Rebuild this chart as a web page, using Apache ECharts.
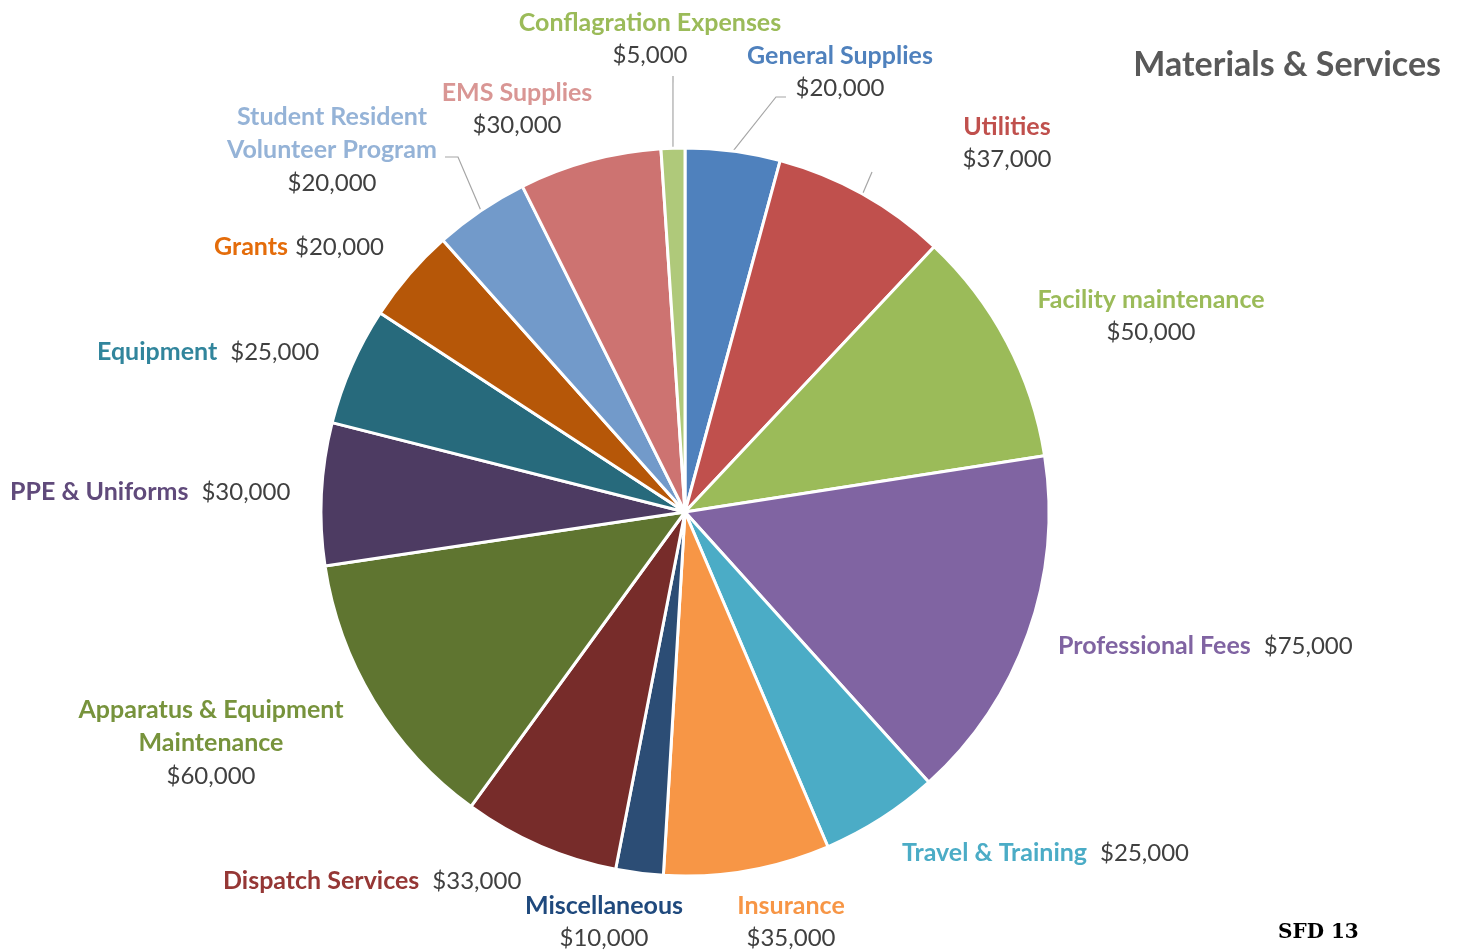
<!DOCTYPE html>
<html>
<head>
<meta charset="utf-8">
<title>Materials & Services</title>
<script src="https://cdn.jsdelivr.net/npm/echarts@6/dist/echarts.min.js"></script>
<style>
  html, body { margin: 0; padding: 0; background: #fff; }
  #main { width: 1460px; height: 951px; }
</style>
</head>
<body>
<div id="main"></div>
<script>
// budget lines, clockwise from the top
var categories = ['General Supplies', 'Utilities', 'Facility maintenance', 'Professional Fees',
    'Travel & Training', 'Insurance', 'Miscellaneous', 'Dispatch Services',
    'Apparatus & Equipment\nMaintenance', 'PPE & Uniforms', 'Equipment', 'Grants',
    'Student Resident\nVolunteer Program', 'EMS Supplies', 'Conflagration Expenses'];
var amounts = [20000, 37000, 50000, 75000, 25000, 35000, 10000, 33000,
    60000, 30000, 25000, 20000, 20000, 30000, 5000];

var sliceColors = ['#4F81BD', '#C0504D', '#9BBB59', '#8064A2', '#4BACC6', '#F79646', '#2C4D75', '#772C2A',
    '#5F7530', '#4D3B62', '#276A7C', '#B65708', '#729ACA', '#CD7371', '#AFC97A'];
var nameColors = ['#4F81BD', '#C0504D', '#9BBB59', '#8064A2', '#4BACC6', '#F79646', '#1F497D', '#953735',
    '#77933C', '#604A7B', '#31859C', '#E46C0A', '#95B3D7', '#D99694', '#9BBB59'];

// label placement: [x, y, align, layout]
// 'stack' = name over value, 'wide' = same line with a wide gap, 'tight' = same line, one space
var labelPlace = [
    [840, 72, 'center', 'stack'],
    [1007, 143, 'center', 'stack'],
    [1151, 316, 'center', 'stack'],
    [1058, 646, 'left', 'wide'],
    [902, 853, 'left', 'wide'],
    [791, 922, 'center', 'stack'],
    [604, 922, 'center', 'stack'],
    [223, 881, 'left', 'wide'],
    [211, 743, 'center', 'stack'],
    [10, 492, 'left', 'wide'],
    [97, 352, 'left', 'wide'],
    [214, 247, 'left', 'tight'],
    [332, 150, 'center', 'stack'],
    [517, 109, 'center', 'stack'],
    [650, 39, 'center', 'stack']
];
// guide line bends for the labels that have one
var guideBends = {
    0: [[776, 97], [786, 97]],
    1: [[872, 172], [872, 172]],
    12: [[458, 157], [445, 157]],
    14: [[673, 76], [673, 76]]
};

var fontFamily = 'Lato, "Open Sans", sans-serif';

function money(v) {
    return '$' + v.toLocaleString('en-US');
}

var pieData = categories.map(function (name, i) {
    var lines = name.split('\n').map(function (s) { return '{n' + i + '|' + s + '}'; }).join('\n');
    var mode = labelPlace[i][3];
    var text;
    if (mode === 'stack') {
        text = lines + '\n{v|' + money(amounts[i]) + '}';
    } else if (mode === 'wide') {
        text = lines + '{vw|' + money(amounts[i]) + '}';
    } else {
        text = lines + '{vt|' + money(amounts[i]) + '}';
    }
    var rich = {};
    rich['n' + i] = {
        color: nameColors[i], fontWeight: 'bold', fontSize: 25,
        fontFamily: fontFamily, lineHeight: 33
    };
    return {
        name: name,
        value: amounts[i],
        itemStyle: { color: sliceColors[i] },
        label: { formatter: text, rich: rich },
        labelLine: { show: guideBends[i] !== undefined }
    };
});

var valueStyle = { color: '#404040', fontSize: 24, fontFamily: fontFamily, lineHeight: 33 };

var chart = echarts.init(document.getElementById('main'));
chart.setOption({
    backgroundColor: '#ffffff',
    animation: false,
    title: [
        {
            text: 'Materials & Services',
            right: 14,
            top: 43,
            textStyle: { color: '#595959', fontSize: 34, fontWeight: 'bold', fontFamily: fontFamily }
        },
        {
            text: 'SFD 13',
            left: 1273,
            top: 918,
            textStyle: { color: '#000000', fontSize: 20, fontWeight: 'bold', fontFamily: '"DejaVu Serif", serif' }
        }
    ],
    series: [
        {
            type: 'pie',
            center: [685, 512],
            radius: 364,
            startAngle: 90,
            clockwise: true,
            avoidLabelOverlap: false,
            itemStyle: { borderColor: '#ffffff', borderWidth: 3 },
            label: {
                show: true,
                position: 'outside',
                rich: {
                    v: valueStyle,
                    vw: Object.assign({ padding: [0, 0, 0, 13] }, valueStyle),
                    vt: Object.assign({ padding: [0, 0, 0, 7] }, valueStyle)
                }
            },
            labelLine: {
                show: false,
                smooth: false,
                lineStyle: { color: '#A6A6A6', width: 1.2 }
            },
            labelLayout: function (params) {
                var i = params.dataIndex;
                var p = labelPlace[i];
                var out = { x: p[0], y: p[1], align: p[2], verticalAlign: 'middle' };
                if (guideBends[i] && params.labelLinePoints) {
                    var start = params.labelLinePoints[0];
                    out.labelLinePoints = [start, guideBends[i][0], guideBends[i][1]];
                }
                return out;
            },
            emphasis: { disabled: true },
            data: pieData
        }
    ]
});
</script>
</body>
</html>
